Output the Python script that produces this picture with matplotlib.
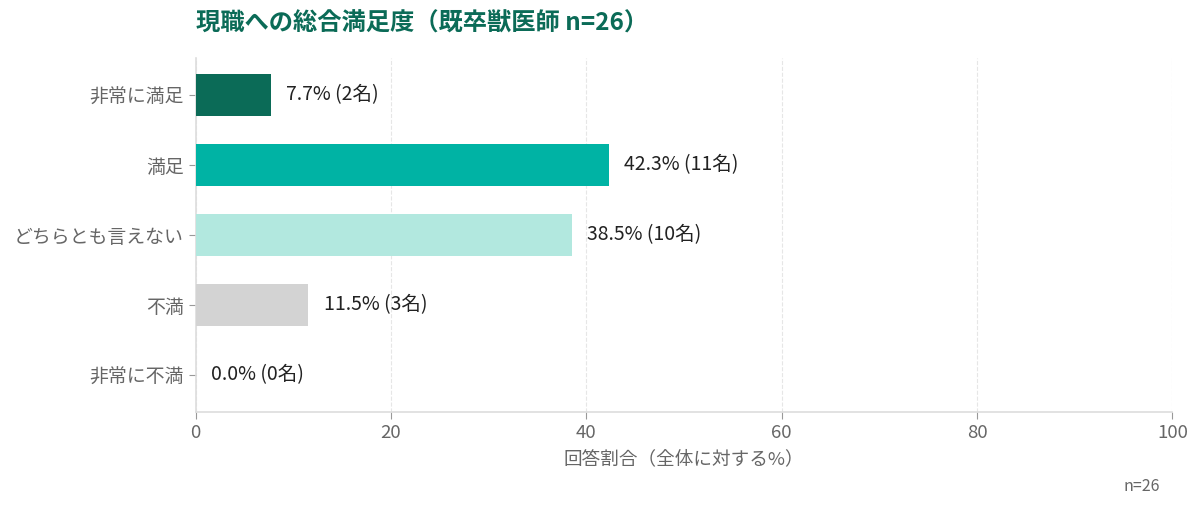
import matplotlib
matplotlib.use('Agg')
import matplotlib.pyplot as plt

plt.rcParams['font.family'] = ['Noto Sans CJK JP', 'DejaVu Sans']

# データ
categories = ['非常に満足', '満足', 'どちらとも言えない', '不満', '非常に不満']
percents = [7.7, 42.3, 38.5, 11.5, 0.0]
counts = [2, 11, 10, 3, 0]
colors = ['#0b6b57', '#00b3a4', '#b2e8df', '#d3d3d3', '#d3d3d3']
n_total = 26

fig = plt.figure(figsize=(12, 5.09), dpi=100)
ax = fig.add_axes([0.163, 0.1906, 0.814, 0.6955])

y = list(range(len(categories)))
ax.barh(y, percents, height=0.6, color=colors, zorder=3)
ax.set_yticks(y)
ax.set_yticklabels(categories, fontsize=13.6, color='#666666')
ax.invert_yaxis()

for yi, p, c in zip(y, percents, counts):
    ax.text(p + 1.6, yi, f'{p:.1f}% ({c}名)', va='center', ha='left',
            fontsize=14, color='#222222', zorder=4)

ax.set_xlim(0, 100)
ax.set_xticks([0, 20, 40, 60, 80, 100])
ax.tick_params(axis='x', labelsize=13.4, labelcolor='#666666', color='#999999', length=5)
ax.tick_params(axis='y', color='#999999', length=5)
ax.set_xlabel('回答割合（全体に対する%）', fontsize=13.4, color='#666666', labelpad=6)

ax.grid(axis='x', linestyle='--', color='#e6e6e6', linewidth=0.8, zorder=0)
for s in ['top', 'right']:
    ax.spines[s].set_visible(False)
for s in ['left', 'bottom']:
    ax.spines[s].set_color('#dddddd')
    ax.spines[s].set_linewidth(1.2)

fig.text(0.163, 0.953, '現職への総合満足度（既卒獣医師 n=26）', fontsize=17.5,
         fontweight='bold', color='#0b6b57', ha='left', va='center')
fig.text(0.967, 0.045, f'n={n_total}', fontsize=11.5, color='#666666', ha='right', va='center')

fig.savefig('out.png', dpi=100)
